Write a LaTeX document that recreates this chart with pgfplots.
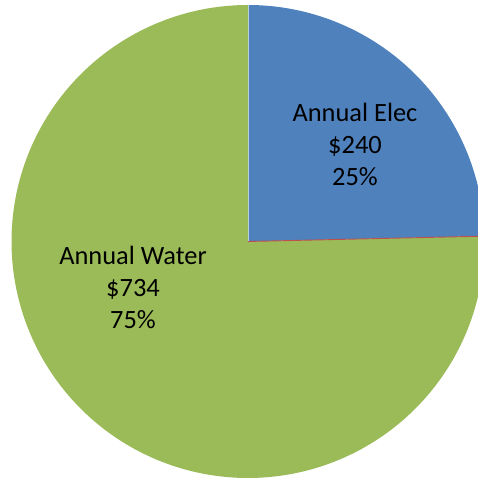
\documentclass[border=0pt]{standalone}
\usepackage{fontspec}
\setmainfont{Carlito}
\usepackage{pgfplots}
\usepackage{pgfplotstable}
\pgfplotsset{compat=1.18}
\definecolor{pieblue}{RGB}{79,129,189}
\definecolor{piegreen}{RGB}{155,187,89}
\definecolor{piered}{RGB}{192,80,77}
\pgfplotstableread{
label value
Elec 240
Gas 0
Water 734
}\piedata
\begin{document}%
\begin{tikzpicture}
\pgfplotstablegetelem{0}{value}\of\piedata \let\valA\pgfplotsretval
\pgfplotstablegetelem{1}{value}\of\piedata \let\valB\pgfplotsretval
\pgfplotstablegetelem{2}{value}\of\piedata \let\valC\pgfplotsretval
\pgfmathsetmacro{\tot}{\valA+\valB+\valC}
\pgfmathsetmacro{\angA}{90-360*(\valA/\tot)}
\pgfmathsetmacro{\angB}{\angA-360*(\valB/\tot)}
\begin{axis}[
  hide axis, scale only axis,
  width=478pt, height=481pt,
  xmin=0, xmax=478, ymin=0, ymax=481,
  clip=true,
]
\addplot[fill=pieblue, draw=none, domain=\angA:90, samples=150, variable=\t]
  ({248+236.5*cos(\t)},{239.5+236.5*sin(\t)}) -- (axis cs:248,239.5) -- cycle;
\addplot[fill=piegreen, draw=none, domain=-270:\angB, samples=300, variable=\t]
  ({248+236.5*cos(\t)},{239.5+236.5*sin(\t)}) -- (axis cs:248,239.5) -- cycle;
\addplot[draw=white, line width=0.8pt, opacity=0.6] coordinates {(248,239.5) (248,476)};
\addplot[draw=piered, line width=0.9pt, domain=0:236.5, samples=2, variable=\r]
  ({248+\r*cos(\angA)},{239.5+\r*sin(\angA)});
\node[align=center, font=\fontsize{26.4}{32}\selectfont, inner sep=0pt] at (axis cs:355,337) {Annual Elec\\\$\valA\\25\%};
\node[align=center, font=\fontsize{26.4}{32}\selectfont, inner sep=0pt] at (axis cs:133,194) {Annual Water\\\$\valC\\75\%};
\end{axis}
\pgfresetboundingbox
\useasboundingbox (current axis.south west) rectangle (current axis.north east);
\end{tikzpicture}%
\end{document}
